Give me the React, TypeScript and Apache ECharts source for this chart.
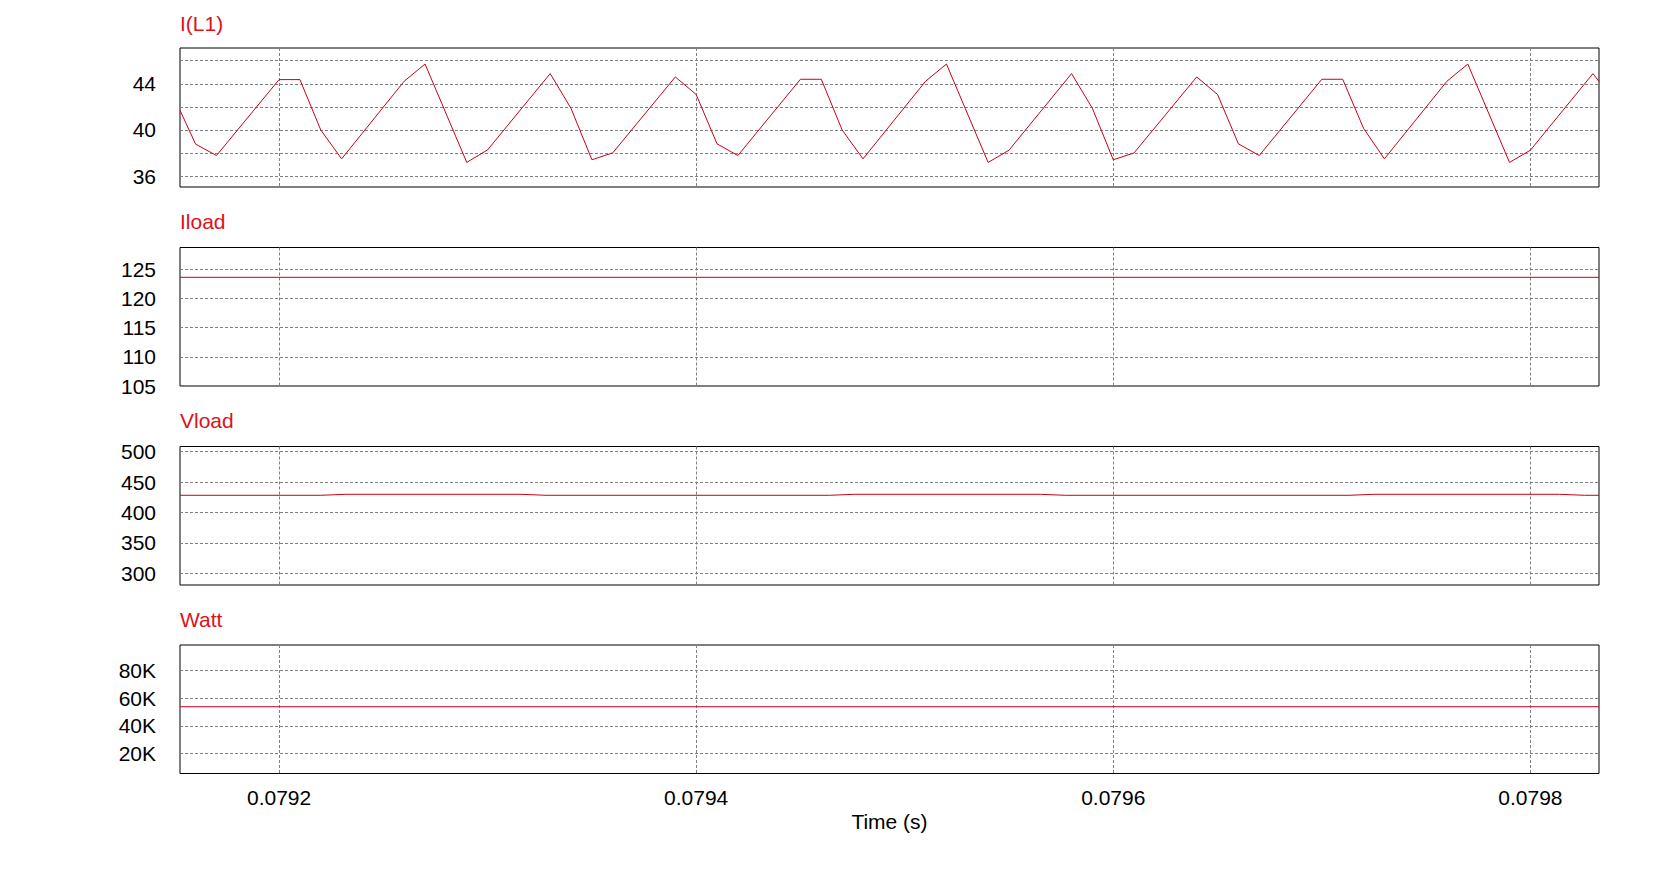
import React, { useEffect, useRef } from 'react';
import * as echarts from 'echarts';

// ---- Data ----
const xMin = 0.0791525;
const xMax = 0.0798329;
const timeTicks = [0.0792, 0.0794, 0.0796, 0.0798];

const panelTitles = ['I(L1)', 'Iload', 'Vload', 'Watt'];

const iL1Time = [
  0.0791525, 0.07916, 0.07917, 0.0792, 0.07921, 0.07922, 0.07923, 0.07926, 0.07927,
  0.07929, 0.0793, 0.07933, 0.07934, 0.07935, 0.07936, 0.07939, 0.0794, 0.07941,
  0.07942, 0.07945, 0.07946, 0.07947, 0.07948, 0.07951, 0.07952, 0.07954, 0.07955,
  0.07958, 0.07959, 0.0796, 0.07961, 0.07964, 0.07965, 0.07966, 0.07967, 0.0797,
  0.07971, 0.07972, 0.07973, 0.07976, 0.07977, 0.07979, 0.0798, 0.07983, 0.0798329,
];
const iL1Values = [
  41.7, 38.76, 37.78, 44.36, 44.36, 39.99, 37.49, 44.22, 45.71,
  37.18, 38.27, 44.88, 41.86, 37.41, 38.01, 44.59, 43.07, 38.79,
  37.78, 44.39, 44.39, 39.99, 37.49, 44.22, 45.71, 37.18, 38.24,
  44.88, 41.86, 37.41, 38.01, 44.59, 43.07, 38.79, 37.78, 44.39,
  44.39, 40.14, 37.49, 44.22, 45.71, 37.18, 38.24, 44.88, 44.2,
];

const iloadTime = [0.0791525, 0.0798329];
const iloadValues = [123.6, 123.6];

const vloadTime = [
  0.0791525, 0.07922, 0.079232, 0.079316, 0.079328, 0.079464, 0.079476,
  0.079565, 0.079577, 0.079713, 0.079725, 0.079814, 0.079826, 0.0798329,
];
const vloadValues = [
  428.3, 428.3, 429.9, 429.9, 428.3, 428.3, 429.9,
  429.9, 428.3, 428.3, 429.9, 429.9, 428.3, 428.3,
];

const wattTime = [0.0791525, 0.0798329];
const wattValues = [53800, 53800];

const iL1Grid = [36, 38, 40, 42, 44, 46];
const iL1Labels = [36, 40, 44];
const iloadTicks = [105, 110, 115, 120, 125];
const vloadTicks = [300, 350, 400, 450, 500];
const wattTicks = [20000, 40000, 60000, 80000];

const yRanges = [
  [35.05, 47.1],
  [105, 128.7],
  [280.8, 508.5],
  [5760, 98200],
];

// ---- Styling ----
const FONT = "'Liberation Sans', Arial, sans-serif";
const RED = '#e0101a';
const LINE_RED = '#c80018';
const GRID_COLOR = '#808080';
const FS = 21;

const gridBoxes = [
  { top: 48, height: 139 },
  { top: 247.5, height: 138.5 },
  { top: 446.5, height: 138.5 },
  { top: 645, height: 128.5 },
];
const titleTops = [13, 210.5, 410, 609];

export default function App() {
  const ref = useRef<HTMLDivElement>(null);

  useEffect(() => {
    if (!ref.current) return;
    const chart = echarts.init(ref.current, null, { renderer: 'svg' });

    const zip = (t: number[], v: number[]) => t.map((x, i) => [x, v[i]]);
    const seriesData = [
      zip(iL1Time, iL1Values),
      zip(iloadTime, iloadValues),
      zip(vloadTime, vloadValues),
      zip(wattTime, wattValues),
    ];
    const tickSets = [iL1Grid, iloadTicks, vloadTicks, wattTicks];
    const labelSets = [iL1Labels, iloadTicks, vloadTicks, wattTicks];

    const splitLine = {
      show: true,
      lineStyle: { color: GRID_COLOR, width: 1, type: [3, 2] as number[] },
    };

    const option: any = {
      animation: false,
      backgroundColor: '#fff',
      title: panelTitles.map((t, i) => ({
        text: t,
        left: 180,
        top: titleTops[i],
        padding: 0,
        textStyle: { color: RED, fontSize: FS, fontWeight: 'normal', fontFamily: FONT },
      })),
      grid: gridBoxes.map((g) => ({
        left: 180,
        width: 1419,
        top: g.top,
        height: g.height,
        show: true,
        borderColor: '#000',
        borderWidth: 1,
        backgroundColor: 'transparent',
        containLabel: false,
        outerBoundsMode: 'none',
      })),
      xAxis: gridBoxes.map((_, i) => ({
        type: 'value',
        gridIndex: i,
        min: xMin,
        max: xMax,
        axisLine: { show: false },
        axisTick: { show: false, customValues: timeTicks },
        splitLine,
        axisLabel: {
          show: i === 3,
          customValues: timeTicks,
          formatter: (v: number) => v.toFixed(4),
          color: '#000',
          fontSize: FS,
          fontFamily: FONT,
          margin: 13,
        },
        name: i === 3 ? 'Time (s)' : '',
        nameLocation: 'middle',
        nameGap: 37,
        nameTextStyle: { color: '#000', fontSize: FS, fontFamily: FONT },
      })),
      yAxis: gridBoxes.map((_, i) => ({
        type: 'value',
        gridIndex: i,
        min: yRanges[i][0],
        max: yRanges[i][1],
        axisLine: { show: false },
        axisTick: { show: false, customValues: tickSets[i] },
        splitLine,
        axisLabel: {
          show: true,
          customValues: labelSets[i],
          formatter: i === 3 ? (v: number) => `${Math.round(v / 1000)}K` : (v: number) => `${v}`,
          color: '#000',
          fontSize: FS,
          fontFamily: FONT,
          margin: 24,
        },
      })),
      series: seriesData.map((d, i) => ({
        type: 'line',
        xAxisIndex: i,
        yAxisIndex: i,
        data: d,
        showSymbol: false,
        symbol: 'none',
        silent: true,
        lineStyle: { color: LINE_RED, width: 1 },
      })),
    };

    chart.setOption(option);
    return () => chart.dispose();
  }, []);

  return (
    <div
      ref={ref}
      style={{ position: 'fixed', left: 0, top: 0, width: 1659, height: 869, background: '#fff' }}
    />
  );
}
